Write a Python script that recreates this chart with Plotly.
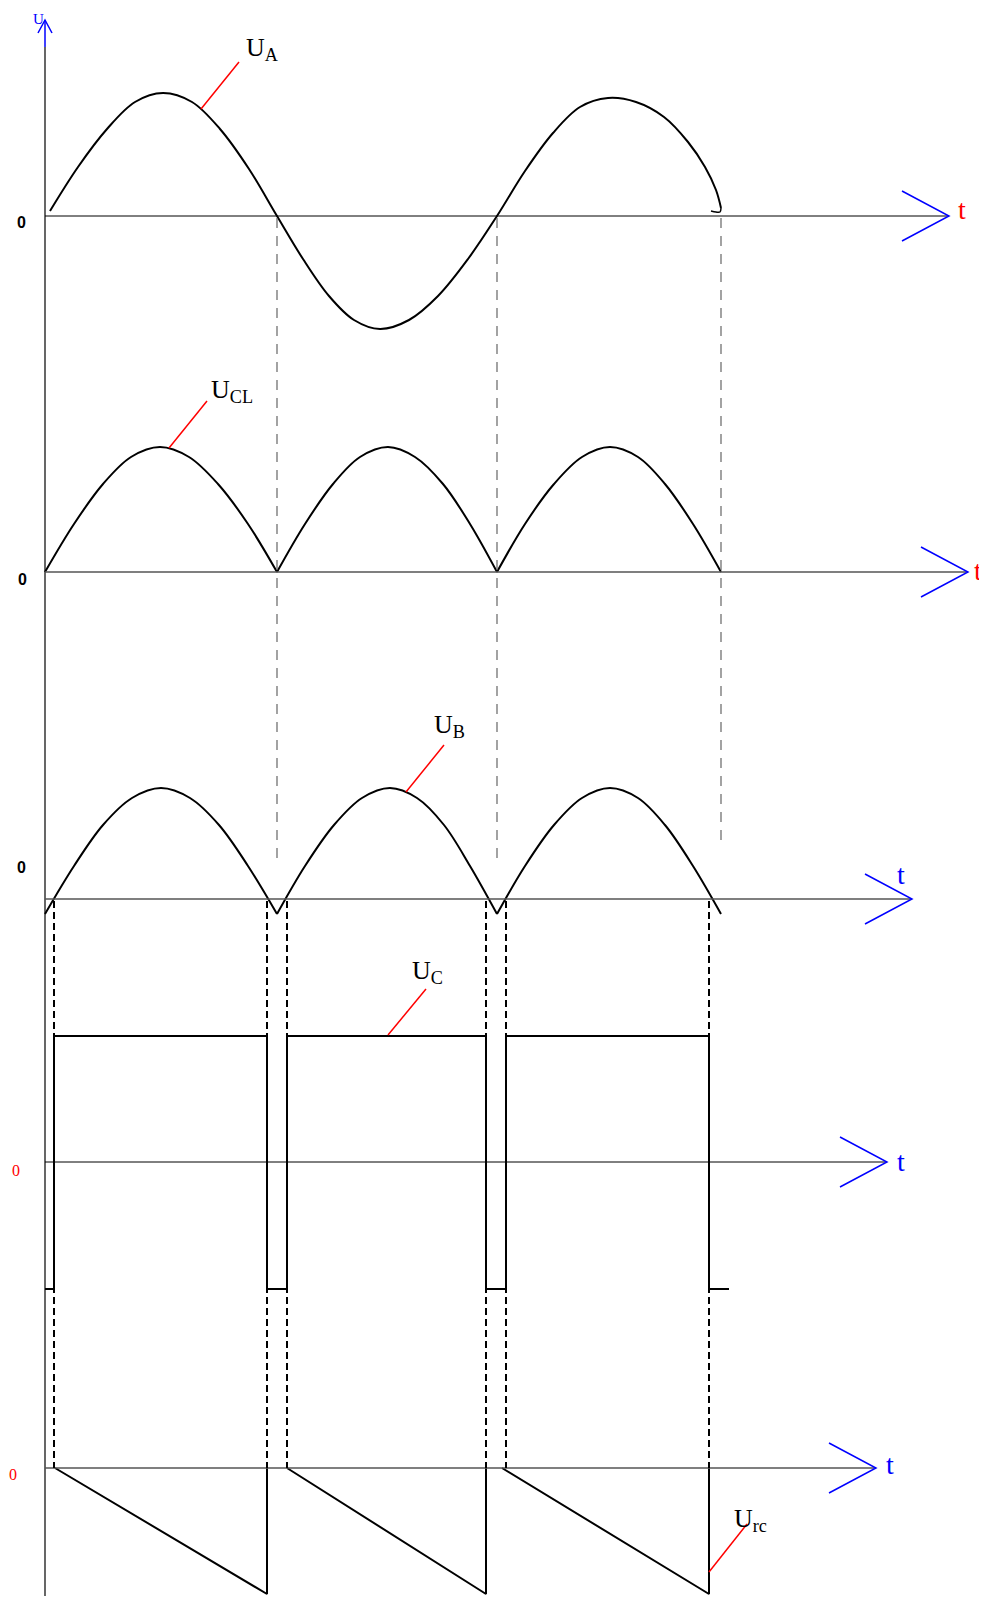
import plotly.graph_objects as go

# ---------------- data (time in arbitrary units, t = 0 at the vertical axis) -------------
# U_A : mains voltage
ua_t = [5, 33, 62, 90, 118, 147, 175, 204, 232,
        258, 284, 309, 335, 364, 393, 423, 452,
        480, 508, 535, 563, 591, 619, 643, 660, 671, 676]
ua_v = [5, 49, 87, 114, 123, 114, 87, 47, 0,
        -43, -80, -104, -113, -104, -80, -43, 0,
        45, 83, 109, 118, 114, 99, 74, 49, 26, 8]
ua_hook_t = [676, 675, 671, 666]
ua_hook_v = [8, 4, 4, 5]

# U_CL : full-wave rectified (three humps)
ucl_humps_t = [
    [0, 29, 58, 86, 115, 144, 173, 203, 232],
    [232, 260, 288, 315, 343, 370, 398, 425, 452],
    [452, 480, 509, 537, 565, 593, 620, 648, 676],
]
ucl_hump_v = [0, 48, 88, 115, 125, 115, 88, 48, 0]

# U_B : rectified wave shifted down
ub_humps_t = [
    [0, 29, 58, 87, 116, 145, 174, 203, 232],
    [232, 260, 289, 317, 345, 372, 399, 425, 452],
    [452, 480, 509, 537, 565, 593, 620, 648, 676],
]
ub_hump_v = [-15, 33, 74, 101, 111, 101, 74, 33, -15]

# U_C : square pulses
uc_t = [0, 9, 222, 242, 441, 461, 664, 684]
uc_v = [-127, 126, -127, 126, -127, 126, -127, -127]

# U_rc : sawtooth
urc_t = [10, 222, 222, None, 242, 441, 441, None, 457, 664, 664]
urc_v = [0, -126, 0, None, 0, -126, 0, None, 0, -126, 0]

# instants used for guide lines
zero_cross_t = [232, 452, 676]
switch_t = [9, 222, 242, 441, 461, 664]

# axis ends (arrow tips) per panel
axis_tip_t = [904, 923, 867, 842, 831]

# ---------------- layout geometry (page pixels) ----------------
OFF = 8                          # default page body margin
W, H = 987 - OFF, 1604 - 2 * OFF # figure size
X0 = 45                          # page x of the vertical axis
panels = [  # top, bottom, zero-line (page px)
    (8, 394, 216),
    (394, 690, 572),
    (690, 960, 899),
    (960, 1320, 1162),
    (1320, OFF + H, 1468),
]

def py(p):  # page y pixel -> paper
    return 1 - (p - OFF) / H

def px(p):  # page x pixel -> x data
    return p - X0

def pxp(p):  # page x pixel -> paper
    return (p - OFF) / W

fig = go.Figure()
yn = ['y', 'y2', 'y3', 'y4', 'y5']

blk = dict(color='black', width=2)
fig.add_trace(go.Scatter(x=ua_t, y=ua_v, mode='lines', line=dict(shape='spline', **blk), yaxis='y'))
fig.add_trace(go.Scatter(x=ua_hook_t, y=ua_hook_v, mode='lines', line=dict(shape='spline', color='black', width=1.5), yaxis='y'))
for tt in ucl_humps_t:
    fig.add_trace(go.Scatter(x=tt, y=ucl_hump_v, mode='lines', line=dict(shape='spline', **blk), yaxis='y2'))
for tt in ub_humps_t:
    fig.add_trace(go.Scatter(x=tt, y=ub_hump_v, mode='lines', line=dict(shape='spline', **blk), yaxis='y3'))
fig.add_trace(go.Scatter(x=uc_t, y=uc_v, mode='lines', line=dict(shape='hv', **blk), yaxis='y4'))
fig.add_trace(go.Scatter(x=urc_t, y=urc_v, mode='lines', line=dict(**blk), connectgaps=False,
                         cliponaxis=False, yaxis='y5'))

shapes = []
# main vertical axis
shapes.append(dict(type='line', xref='x', yref='paper', x0=0, x1=0, y0=0, y1=py(47),
                   line=dict(color='black', width=1.2)))
shapes.append(dict(type='line', xref='x', yref='paper', x0=0, x1=0, y0=py(47), y1=py(20),
                   line=dict(color='blue', width=1.5)))
shapes.append(dict(type='path', xref='x', yref='paper',
                   path=f"M -7,{py(33)} L 0,{py(20)} L 7,{py(33)}",
                   line=dict(color='blue', width=1.5)))

axis_cols = ['black', '#555555', '#555555', 'black', '#555555']
axis_w = [1, 1.5, 1.5, 1, 1.5]
for i, tip in enumerate(axis_tip_t):
    shapes.append(dict(type='line', xref='x', yref=yn[i], x0=0, x1=tip, y0=0, y1=0,
                       line=dict(color=axis_cols[i], width=axis_w[i])))
    shapes.append(dict(type='path', xref='x', yref=yn[i],
                       path=f"M {tip-47},25 L {tip},0 L {tip-47},-25",
                       line=dict(color='blue', width=1.5)))

# grey dashed guide lines (zero crossings)
ends = [864, 864, 840]
for t, e in zip(zero_cross_t, ends):
    shapes.append(dict(type='line', xref='x', yref='paper', x0=t, x1=t, y0=py(218), y1=py(e),
                       line=dict(color='#666666', width=1.2, dash='10px,8px')))
# black dashed lines (switching instants)
for t in switch_t:
    shapes.append(dict(type='line', xref='x', yref='paper', x0=t, x1=t, y0=py(901), y1=py(1468),
                       line=dict(color='black', width=2, dash='7px,4px')))

# red leaders
leaders = [
    ('y', 156, 107, 194, 154),
    ('y2', 124, 124, 162, 171),
    ('y3', 361, 107, 399, 154),
    ('y4', 343, 127, 381, 173),
    ('y5', 664, -104, 702, -56),
]
for yr, a, b, c, d in leaders:
    shapes.append(dict(type='line', xref='x', yref=yr, x0=a, y0=b, x1=c, y1=d,
                       line=dict(color='red', width=1.5)))

serif = 'Liberation Serif'
ann = []
labels = [  # page px of text box left/top
    (244, 31, 'U<sub>A</sub>'),
    (209, 373, 'U<sub>CL</sub>'),
    (432, 708, 'U<sub>B</sub>'),
    (410, 954, 'U<sub>C</sub>'),
    (732, 1502, 'U<sub>rc</sub>'),
]
for x, y, txt in labels:
    ann.append(dict(xref='paper', yref='paper', x=pxp(x), y=py(y), text=txt, showarrow=False,
                    xanchor='left', yanchor='top',
                    font=dict(family=serif, size=26, color='black')))

tlabels = [  # page px centre
    (962, 210, 'red'),
    (978, 570, 'red'),
    (901, 874, 'blue'),
    (901, 1161, 'blue'),
    (890, 1464, 'blue'),
]
for x, y, c in tlabels:
    ann.append(dict(xref='paper', yref='paper', x=pxp(x), y=py(y), text='t', showarrow=False,
                    xanchor='center', yanchor='middle',
                    font=dict(family=serif, size=28, color=c)))

zeros = [
    (21, 222, 'bold'),
    (22, 580, 'bold'),
    (21, 867, 'bold'),
    (16, 1170, 'red'),
    (13, 1474, 'red'),
]
for x, y, st in zeros:
    if st == 'bold':
        ann.append(dict(xref='paper', yref='paper', x=pxp(x), y=py(y), text='<b>0</b>', showarrow=False,
                        xanchor='center', yanchor='middle',
                        font=dict(family='Liberation Sans', size=16, color='black')))
    else:
        ann.append(dict(xref='paper', yref='paper', x=pxp(x), y=py(y), text='0', showarrow=False,
                        xanchor='center', yanchor='middle',
                        font=dict(family=serif, size=16, color='red')))

ann.append(dict(xref='paper', yref='paper', x=pxp(38), y=py(19), text='U', showarrow=False,
                xanchor='center', yanchor='middle',
                font=dict(family=serif, size=15, color='blue')))

layout = dict(
    width=W, height=H, margin=dict(l=0, r=0, t=0, b=0),
    paper_bgcolor='white', plot_bgcolor='white', showlegend=False,
    xaxis=dict(range=[px(OFF), px(OFF + W)], visible=False, fixedrange=True),
    shapes=shapes, annotations=ann,
)
for i, (top, bot, z) in enumerate(panels):
    key = 'yaxis' if i == 0 else f'yaxis{i+1}'
    d = dict(domain=[py(bot), py(top)], range=[-(bot - z), z - top], visible=False, fixedrange=True)
    if i > 0:
        d['anchor'] = 'x'
    layout[key] = d
fig.update_layout(**layout)
fig.write_html("out.html")
